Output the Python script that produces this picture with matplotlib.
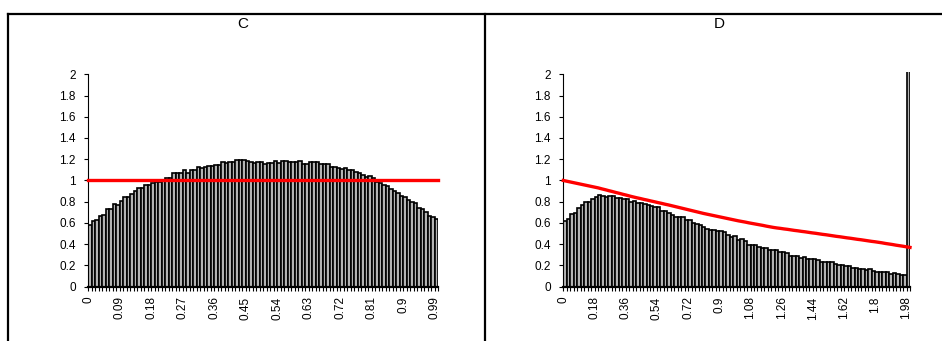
import numpy as np
import matplotlib
matplotlib.use("Agg")
import matplotlib.pyplot as plt
from matplotlib.lines import Line2D
from matplotlib.ticker import FuncFormatter

plt.rcParams['font.family'] = ['Liberation Sans', 'DejaVu Sans']

# panel C: histogram heights (100 categories 0 .. 0.99) and reference line
c_bars = [0.585, 0.616, 0.629, 0.667, 0.679, 0.73, 0.73, 0.783, 0.767, 0.808,
          0.846, 0.846, 0.874, 0.899, 0.925, 0.925, 0.962, 0.962, 0.978, 0.984,
          0.99, 0.994, 1.025, 1.025, 1.075, 1.069, 1.075, 1.10, 1.075, 1.10,
          1.10, 1.129, 1.12, 1.129, 1.14, 1.135, 1.145, 1.148, 1.17, 1.163,
          1.17, 1.17, 1.195, 1.189, 1.195, 1.186, 1.17, 1.163, 1.17, 1.17,
          1.157, 1.167, 1.167, 1.18, 1.167, 1.18, 1.186, 1.17, 1.17, 1.17,
          1.186, 1.157, 1.157, 1.17, 1.17, 1.17, 1.154, 1.154, 1.154, 1.13,
          1.13, 1.116, 1.11, 1.116, 1.10, 1.10, 1.08, 1.066, 1.053, 1.03,
          1.04, 1.02, 0.987, 0.975, 0.96, 0.95, 0.92, 0.905, 0.884, 0.852,
          0.84, 0.818, 0.796, 0.786, 0.745, 0.73, 0.704, 0.67, 0.657, 0.638]
c_line = [1.0] * 100
c_labels = ["0", "0.09", "0.18", "0.27", "0.36", "0.45", "0.54", "0.63",
            "0.72", "0.81", "0.9", "0.99"]

# panel D: histogram heights (100 categories 0 .. 1.98) and reference curve
d_bars = [0.615, 0.64, 0.685, 0.694, 0.745, 0.773, 0.795, 0.795, 0.826, 0.842,
          0.864, 0.858, 0.845, 0.858, 0.852, 0.833, 0.833, 0.826, 0.826, 0.798,
          0.804, 0.789, 0.785, 0.776, 0.767, 0.757, 0.748, 0.748, 0.71, 0.71,
          0.694, 0.672, 0.656, 0.656, 0.656, 0.628, 0.628, 0.603, 0.587, 0.577,
          0.558, 0.546, 0.536, 0.536, 0.527, 0.527, 0.514, 0.489, 0.467, 0.473,
          0.44, 0.448, 0.426, 0.397, 0.397, 0.397, 0.372, 0.36, 0.369, 0.347,
          0.347, 0.344, 0.331, 0.331, 0.315, 0.293, 0.293, 0.293, 0.274, 0.28,
          0.265, 0.265, 0.265, 0.252, 0.23, 0.23, 0.23, 0.23, 0.211, 0.202,
          0.202, 0.192, 0.192, 0.18, 0.18, 0.17, 0.167, 0.158, 0.167, 0.151,
          0.142, 0.139, 0.139, 0.139, 0.117, 0.126, 0.12, 0.114, 0.114, 2.6]
d_line = [1.000, 0.993, 0.986, 0.979, 0.972, 0.965, 0.958, 0.951, 0.944, 0.937,
          0.930, 0.921, 0.913, 0.904, 0.896, 0.887, 0.879, 0.870, 0.862, 0.853,
          0.845, 0.837, 0.830, 0.822, 0.815, 0.807, 0.800, 0.792, 0.785, 0.777,
          0.770, 0.762, 0.754, 0.746, 0.738, 0.730, 0.722, 0.714, 0.706, 0.698,
          0.690, 0.683, 0.676, 0.669, 0.662, 0.655, 0.648, 0.641, 0.634, 0.627,
          0.620, 0.614, 0.608, 0.601, 0.595, 0.589, 0.583, 0.577, 0.570, 0.564,
          0.558, 0.553, 0.549, 0.544, 0.540, 0.535, 0.530, 0.526, 0.521, 0.517,
          0.512, 0.507, 0.503, 0.498, 0.493, 0.489, 0.484, 0.479, 0.474, 0.470,
          0.465, 0.460, 0.456, 0.451, 0.446, 0.442, 0.437, 0.432, 0.427, 0.423,
          0.418, 0.413, 0.407, 0.402, 0.397, 0.391, 0.386, 0.381, 0.375, 0.370]
d_labels = ["0", "0.18", "0.36", "0.54", "0.72", "0.9", "1.08", "1.26",
            "1.44", "1.62", "1.8", "1.98"]

W, H = 942, 341
fig = plt.figure(figsize=(W / 100, H / 100), dpi=100)


def draw_panel(rect, bars, line, labels, title, title_x):
    ax = fig.add_axes(rect)
    n = len(bars)
    x = np.arange(n)
    ax.bar(x, bars, width=1.0, align='edge', color='#b4b4b4',
           edgecolor='black', linewidth=1.2)
    ax.plot(np.linspace(0, n, n), line, color='#ff0000', lw=2.4, clip_on=False,
            zorder=3)
    ax.set_xlim(0, n)
    ax.set_ylim(0, 2.025)
    ax.set_yticks(np.arange(0, 2.01, 0.2))
    ax.yaxis.set_major_formatter(FuncFormatter(lambda v, p: '%g' % round(v, 1)))
    ax.set_xticks(np.arange(0, n, 9))
    ax.set_xticklabels(labels, rotation=90)
    ax.set_xticks(np.arange(0, n + 1), minor=True)
    ax.tick_params(axis='x', which='both', length=3, width=0.8, direction='out')
    ax.tick_params(axis='x', which='major', pad=4, labelsize=8.5)
    ax.tick_params(axis='y', length=3, width=0.8, pad=6, labelsize=8.5)
    for s in ['top', 'right']:
        ax.spines[s].set_visible(False)
    ax.spines['left'].set_bounds(0, 2)
    ax.spines['left'].set_linewidth(0.8)
    ax.spines['bottom'].set_linewidth(1.6)
    fig.text(title_x / W, 1 - 24 / H, title, ha='center', va='center',
             fontsize=11, family=['Liberation Sans Narrow', 'Liberation Sans'])
    return ax


bot = (H - 286.7) / H
hgt = (286.7 - 71.6) / H
draw_panel([88.3 / W, bot, 350 / W, hgt], c_bars, c_line, c_labels, "C", 243)
draw_panel([563.3 / W, bot, 346.7 / W, hgt], d_bars, d_line, d_labels, "D", 719)

# outer frame of the two chart boxes
fig.add_artist(Line2D([8 / W, 1], [1 - 14 / H, 1 - 14 / H], color='black', lw=1.6))
fig.add_artist(Line2D([8 / W, 8 / W], [0, 1 - 14 / H], color='black', lw=1.6))
fig.add_artist(Line2D([485 / W, 485 / W], [0, 1 - 14 / H], color='black', lw=1.6))

fig.savefig("out.png", dpi=100)
